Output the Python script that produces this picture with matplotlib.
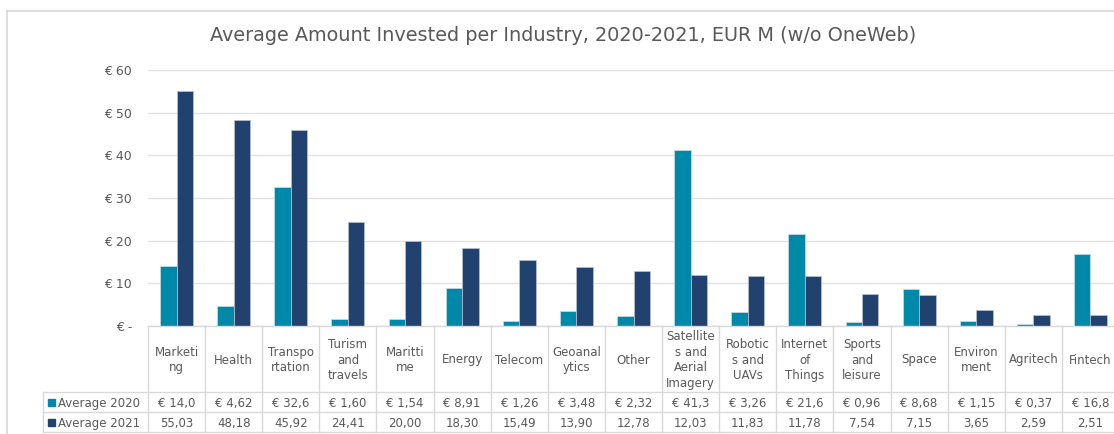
import matplotlib
matplotlib.use("Agg")
import matplotlib.pyplot as plt
from matplotlib.transforms import blended_transform_factory
from matplotlib.lines import Line2D
from matplotlib.patches import Rectangle
import numpy as np

# ---------------- data ----------------
categories = ["Marketi\nng", "Health", "Transpo\nrtation", "Turism\nand\ntravels",
              "Maritti\nme", "Energy", "Telecom", "Geoanal\nytics", "Other",
              "Satellite\ns and\nAerial\nImagery", "Robotic\ns and\nUAVs",
              "Internet\nof\nThings", "Sports\nand\nleisure", "Space",
              "Environ\nment", "Agritech", "Fintech"]
avg_2020 = [14.0, 4.62, 32.6, 1.60, 1.54, 8.91, 1.26, 3.48, 2.32, 41.3, 3.26,
            21.6, 0.96, 8.68, 1.15, 0.37, 16.8]
avg_2021 = [55.03, 48.18, 45.92, 24.41, 20.00, 18.30, 15.49, 13.90, 12.78,
            12.03, 11.83, 11.78, 7.54, 7.15, 3.65, 2.59, 2.51]
series_names = ["Average 2020", "Average 2021"]
y_ticks = [0, 10, 20, 30, 40, 50, 60]

# ---------------- style ----------------
W, H = 1114, 434
C2020 = "#0088A8"
C2021 = "#21426F"
GRID = "#E3E3E3"
LINE = "#D9D9D9"
TXT = "#595959"
FONT = "DejaVu Sans"
plt.rcParams["font.family"] = [FONT]

fig = plt.figure(figsize=(W / 100, H / 100), dpi=100)
fig.patch.set_facecolor("white")

# pixel geometry
x_left, x_right = 148, 1119
y_top, y_base = 70, 326

def fx(px):
    return px / W

def fy(py):
    return 1 - py / H

ax = fig.add_axes([fx(x_left), fy(y_base), fx(x_right) - fx(x_left), fy(y_top) - fy(y_base)])
n = len(categories)
x = np.arange(n)
bw = 0.288
ax.bar(x - bw / 2, avg_2020, width=bw, color=C2020, edgecolor="#C9DDE4", linewidth=0.5, zorder=3)
ax.bar(x + bw / 2, avg_2021, width=bw, color=C2021, edgecolor="#B9C3D1", linewidth=0.5, zorder=3)
ax.set_xlim(-0.5, n - 0.5)
ax.set_ylim(0, 60)
ax.set_yticks(y_ticks)
ax.set_yticklabels([("€ -" if t == 0 else f"€ {t}") for t in y_ticks])
ax.tick_params(axis="y", length=0, pad=11.5, labelsize=9, labelcolor=TXT)
ax.set_xticks([])
for s in ax.spines.values():
    s.set_visible(False)
ax.grid(axis="y", color=GRID, linewidth=1.0, zorder=0)
ax.set_axisbelow(True)
ax.patch.set_alpha(0)

# overlay axes in pixel coordinates for frame and table
ov = fig.add_axes([0, 0, 1, 1], zorder=-1)
ov.set_xlim(0, W)
ov.set_ylim(H, 0)
ov.axis("off")
ov2 = fig.add_axes([0, 0, 1, 1])
ov2.set_xlim(0, W)
ov2.set_ylim(H, 0)
ov2.axis("off")

# outer frame
ov.plot([7, 7], [11, H + 5], color=LINE, lw=1.2, clip_on=False)
ov.plot([7, W + 5], [11, 11], color=LINE, lw=1.2, clip_on=False)

# title
ov2.text(563, 35.5, "Average Amount Invested per Industry, 2020-2021, EUR M (w/o OneWeb)",
         ha="center", va="center", fontsize=13.9, color=TXT)

# table
tr = blended_transform_factory(ax.transData, ov2.transData)
row_hdr_bot, row1_bot, row2_bot = 392, 412, 432
ov2.plot([x_left, W + 10], [y_base, y_base], color=LINE, lw=1, clip_on=False)
for yy in (row_hdr_bot, row1_bot, row2_bot):
    ov2.plot([43, W + 10], [yy, yy], color=LINE, lw=1, clip_on=False)
ov2.plot([43, 43], [row_hdr_bot, row2_bot], color=LINE, lw=1)
for i in range(n + 1):
    ov2.add_line(Line2D([i - 0.5, i - 0.5], [y_base, row2_bot], transform=tr, color=LINE, lw=1))

def fmt2020(v):
    s = f"{v:.1f}" if v >= 10 else f"{v:.2f}"
    return "€ " + s.replace(".", ",")

def fmt2021(v):
    return f"{v:.2f}".replace(".", ",")

for i, lab in enumerate(categories):
    ov2.text(i, (y_base + row_hdr_bot) / 2 + 1, lab, transform=tr, ha="center", va="center",
             fontsize=8.5, color=TXT, linespacing=1.25)
    ov2.text(i, (row_hdr_bot + row1_bot) / 2 + 1, fmt2020(avg_2020[i]), transform=tr,
             ha="center", va="center", fontsize=8.5, color=TXT)
    ov2.text(i, (row1_bot + row2_bot) / 2 + 1, fmt2021(avg_2021[i]), transform=tr,
             ha="center", va="center", fontsize=8.5, color=TXT)

for k, (name, col) in enumerate(zip(series_names, [C2020, C2021])):
    yc = (row_hdr_bot + row1_bot) / 2 + k * 20
    ov2.add_patch(Rectangle((48, yc - 3.5), 7, 7, color=col))
    ov2.text(58, yc + 1, name, ha="left", va="center", fontsize=8.5, color=TXT)

fig.savefig("out.png", dpi=100, facecolor="white")
